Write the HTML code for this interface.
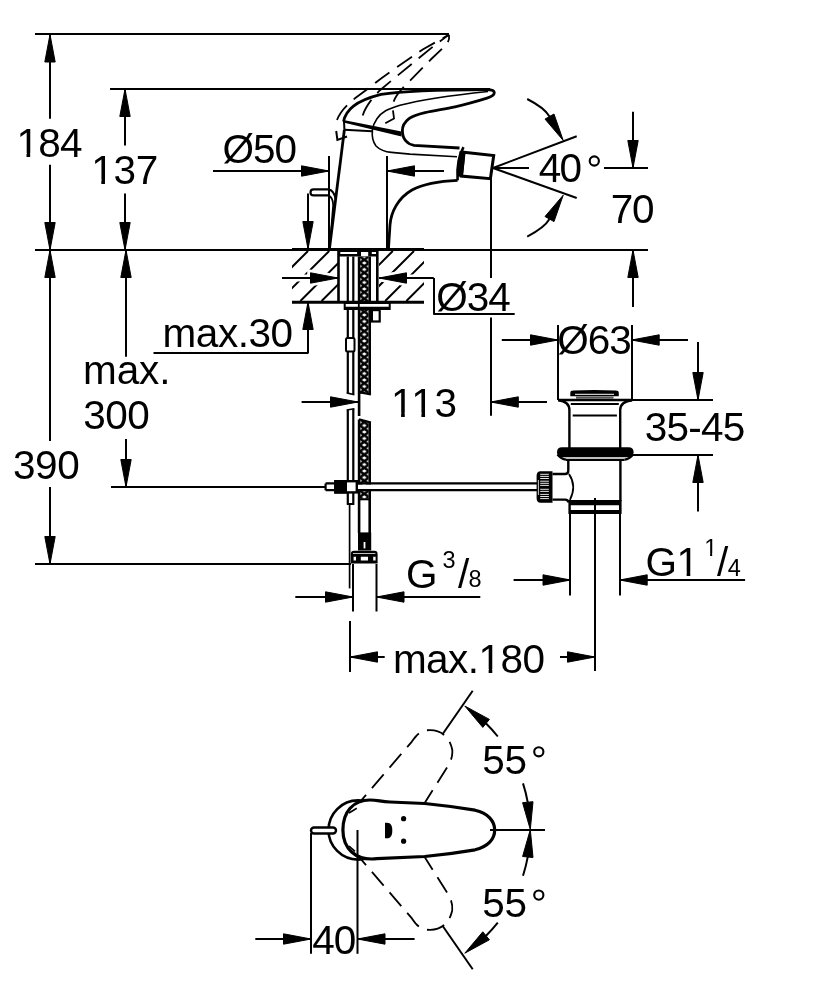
<!DOCTYPE html>
<html><head><meta charset="utf-8"><style>
html,body{margin:0;padding:0;background:#fff;width:834px;height:1000px;overflow:hidden}
svg{display:block}
text{font-family:"Liberation Sans",sans-serif;fill:#000}
svg{-webkit-font-smoothing:antialiased;will-change:transform}
</style></head><body>
<svg width="834" height="1000" viewBox="0 0 834 1000">
<g stroke="#000" fill="none" stroke-linecap="butt">
<line x1="35.0" y1="34.0" x2="449.0" y2="34.0" stroke-width="2.0" />
<line x1="110.0" y1="89.0" x2="490.0" y2="89.0" stroke-width="2.0" />
<line x1="35.0" y1="250.0" x2="648.0" y2="250.0" stroke-width="2.0" />
<line x1="50.0" y1="34.5" x2="50.0" y2="118.7" stroke-width="2.0" />
<line x1="50.0" y1="164.7" x2="50.0" y2="250.0" stroke-width="2.0" />
<polygon points="50.0,34.5 55.2,62.0 44.8,62.0" fill="#000" stroke="#000" stroke-width="1" stroke-linejoin="miter"/>
<polygon points="50.0,250.0 44.8,222.5 55.2,222.5" fill="#000" stroke="#000" stroke-width="1" stroke-linejoin="miter"/>
<line x1="125.0" y1="89.0" x2="125.0" y2="145.6" stroke-width="2.0" />
<line x1="125.0" y1="193.5" x2="125.0" y2="250.0" stroke-width="2.0" />
<polygon points="125.0,89.0 130.2,116.5 119.8,116.5" fill="#000" stroke="#000" stroke-width="1" stroke-linejoin="miter"/>
<polygon points="125.0,250.0 119.8,222.5 130.2,222.5" fill="#000" stroke="#000" stroke-width="1" stroke-linejoin="miter"/>
<line x1="50.0" y1="250.0" x2="50.0" y2="441.0" stroke-width="2.0" />
<line x1="50.0" y1="487.0" x2="50.0" y2="564.0" stroke-width="2.0" />
<polygon points="50.0,250.0 55.2,277.5 44.8,277.5" fill="#000" stroke="#000" stroke-width="1" stroke-linejoin="miter"/>
<polygon points="50.0,564.0 44.8,536.5 55.2,536.5" fill="#000" stroke="#000" stroke-width="1" stroke-linejoin="miter"/>
<line x1="126.0" y1="250.0" x2="126.0" y2="356.7" stroke-width="2.0" />
<line x1="126.0" y1="439.0" x2="126.0" y2="487.0" stroke-width="2.0" />
<polygon points="126.0,250.0 131.2,277.5 120.8,277.5" fill="#000" stroke="#000" stroke-width="1" stroke-linejoin="miter"/>
<polygon points="126.0,487.0 120.8,459.5 131.2,459.5" fill="#000" stroke="#000" stroke-width="1" stroke-linejoin="miter"/>
<line x1="35.0" y1="564.0" x2="351.0" y2="564.0" stroke-width="2.0" />
<line x1="111.0" y1="487.0" x2="326.0" y2="487.0" stroke-width="2.0" />
<line x1="153.5" y1="353.0" x2="308.5" y2="353.0" stroke-width="2.0" />
<line x1="308.0" y1="353.0" x2="308.0" y2="302.0" stroke-width="2.0" />
<polygon points="308.0,302.0 313.2,329.5 302.8,329.5" fill="#000" stroke="#000" stroke-width="1" stroke-linejoin="miter"/>
<line x1="213.0" y1="171.0" x2="329.0" y2="171.0" stroke-width="2.0" />
<polygon points="329.0,171.0 301.5,176.2 301.5,165.8" fill="#000" stroke="#000" stroke-width="1" stroke-linejoin="miter"/>
<line x1="387.0" y1="171.0" x2="444.0" y2="171.0" stroke-width="2.0" />
<polygon points="387.0,171.0 414.5,165.8 414.5,176.2" fill="#000" stroke="#000" stroke-width="1" stroke-linejoin="miter"/>
<line x1="329.0" y1="156.0" x2="329.0" y2="248.0" stroke-width="2.0" />
<line x1="387.0" y1="156.0" x2="387.0" y2="248.0" stroke-width="2.0" />
<line x1="308.0" y1="193.4" x2="308.0" y2="248.0" stroke-width="2.0" />
<polygon points="308.0,249.0 302.8,221.5 313.2,221.5" fill="#000" stroke="#000" stroke-width="1" stroke-linejoin="miter"/>
<line x1="493.0" y1="168.0" x2="576.7" y2="136.2" stroke-width="2.0" />
<line x1="493.0" y1="168.0" x2="576.7" y2="198.0" stroke-width="2.0" />
<line x1="493.0" y1="168.0" x2="529.0" y2="168.0" stroke-width="2.0" />
<path d="M527.2,99 Q544.5,107.8 549.5,116.5" fill="none" stroke-width="2"/>
<polygon points="563.2,140.4 545.0,119.1 554.0,114.0" fill="#000" stroke="#000" stroke-width="1" stroke-linejoin="miter"/>
<path d="M527.2,236.6 Q544.5,227.8 549.5,219.1" fill="none" stroke-width="2"/>
<polygon points="563.2,195.2 554.0,221.6 545.0,216.5" fill="#000" stroke="#000" stroke-width="1" stroke-linejoin="miter"/>
<line x1="491.0" y1="179.0" x2="491.0" y2="278.0" stroke-width="2.0" />
<line x1="491.0" y1="317.6" x2="491.0" y2="415.8" stroke-width="2.0" />
<line x1="604.0" y1="168.0" x2="648.0" y2="168.0" stroke-width="2.0" />
<line x1="633.0" y1="111.7" x2="633.0" y2="168.0" stroke-width="2.0" />
<polygon points="633.0,168.0 627.8,140.5 638.2,140.5" fill="#000" stroke="#000" stroke-width="1" stroke-linejoin="miter"/>
<line x1="633.0" y1="250.0" x2="633.0" y2="307.0" stroke-width="2.0" />
<polygon points="633.0,250.0 638.2,277.5 627.8,277.5" fill="#000" stroke="#000" stroke-width="1" stroke-linejoin="miter"/>
<line x1="282.0" y1="278.0" x2="338.0" y2="278.0" stroke-width="2.0" />
<polygon points="338.0,278.0 310.5,283.2 310.5,272.8" fill="#000" stroke="#000" stroke-width="1" stroke-linejoin="miter"/>
<line x1="379.0" y1="278.0" x2="433.5" y2="278.0" stroke-width="2.0" />
<polygon points="379.0,278.0 406.5,272.8 406.5,283.2" fill="#000" stroke="#000" stroke-width="1" stroke-linejoin="miter"/>
<line x1="434.0" y1="278.0" x2="434.0" y2="314.4" stroke-width="2.0" />
<line x1="433.5" y1="314.0" x2="514.7" y2="314.0" stroke-width="2.0" />
<line x1="301.6" y1="402.0" x2="358.0" y2="402.0" stroke-width="2.0" />
<polygon points="358.0,402.0 330.5,407.2 330.5,396.8" fill="#000" stroke="#000" stroke-width="1" stroke-linejoin="miter"/>
<line x1="490.8" y1="402.0" x2="547.0" y2="402.0" stroke-width="2.0" />
<polygon points="490.8,402.0 518.3,396.8 518.3,407.2" fill="#000" stroke="#000" stroke-width="1" stroke-linejoin="miter"/>
<line x1="558.0" y1="325.0" x2="558.0" y2="400.0" stroke-width="2.0" />
<line x1="632.0" y1="325.0" x2="632.0" y2="400.0" stroke-width="2.0" />
<line x1="501.8" y1="340.0" x2="558.0" y2="340.0" stroke-width="2.0" />
<polygon points="558.0,340.0 530.5,345.2 530.5,334.8" fill="#000" stroke="#000" stroke-width="1" stroke-linejoin="miter"/>
<line x1="631.7" y1="340.0" x2="688.0" y2="340.0" stroke-width="2.0" />
<polygon points="631.7,340.0 659.2,334.8 659.2,345.2" fill="#000" stroke="#000" stroke-width="1" stroke-linejoin="miter"/>
<line x1="632.0" y1="400.0" x2="713.0" y2="400.0" stroke-width="2.0" />
<line x1="632.7" y1="455.0" x2="713.0" y2="455.0" stroke-width="2.0" />
<line x1="698.0" y1="342.0" x2="698.0" y2="400.0" stroke-width="2.0" />
<polygon points="698.0,400.0 692.8,372.5 703.2,372.5" fill="#000" stroke="#000" stroke-width="1" stroke-linejoin="miter"/>
<line x1="698.0" y1="455.0" x2="698.0" y2="511.5" stroke-width="2.0" />
<polygon points="698.0,455.0 703.2,482.5 692.8,482.5" fill="#000" stroke="#000" stroke-width="1" stroke-linejoin="miter"/>
<path d="M353,564 V611.5 M376.5,564 V611.5" stroke-width="2"/>
<line x1="295.3" y1="597.0" x2="353.0" y2="597.0" stroke-width="2.0" />
<polygon points="353.0,597.0 325.5,602.2 325.5,591.8" fill="#000" stroke="#000" stroke-width="1" stroke-linejoin="miter"/>
<line x1="376.5" y1="597.0" x2="480.3" y2="597.0" stroke-width="2.0" />
<polygon points="376.5,597.0 404.0,591.8 404.0,602.2" fill="#000" stroke="#000" stroke-width="1" stroke-linejoin="miter"/>
<line x1="570.0" y1="513.0" x2="570.0" y2="595.4" stroke-width="2" />
<line x1="620.0" y1="513.0" x2="620.0" y2="595.4" stroke-width="2" />
<line x1="513.6" y1="580.0" x2="570.5" y2="580.0" stroke-width="2.0" />
<polygon points="570.5,580.0 543.0,585.2 543.0,574.8" fill="#000" stroke="#000" stroke-width="1" stroke-linejoin="miter"/>
<line x1="619.7" y1="580.0" x2="745.1" y2="580.0" stroke-width="2.0" />
<polygon points="619.7,580.0 647.2,574.8 647.2,585.2" fill="#000" stroke="#000" stroke-width="1" stroke-linejoin="miter"/>
<line x1="350.0" y1="621.0" x2="350.0" y2="672.0" stroke-width="2.0" />
<line x1="350.0" y1="657.0" x2="384.7" y2="657.0" stroke-width="2.0" />
<polygon points="350.0,657.0 377.5,651.8 377.5,662.2" fill="#000" stroke="#000" stroke-width="1" stroke-linejoin="miter"/>
<line x1="560.0" y1="657.0" x2="595.0" y2="657.0" stroke-width="2.0" />
<polygon points="595.0,657.0 567.5,662.2 567.5,651.8" fill="#000" stroke="#000" stroke-width="1" stroke-linejoin="miter"/>
<path d="M349.6,504 V588.4" stroke-width="1.7"/>
<line x1="472.7" y1="690.8" x2="442.7" y2="734.0" stroke-width="2.0" />
<line x1="442.7" y1="926.0" x2="472.7" y2="969.2" stroke-width="2.0" />
<polygon points="464.8,706.0 489.4,719.4 482.8,727.4" fill="#000" stroke="#000" stroke-width="1" stroke-linejoin="miter"/>
<path d="M485.6,723.0 A149.5,149.5 0 0 1 497.8,736.5" fill="none" stroke-width="2"/>
<path d="M523.0,783.4 A149.5,149.5 0 0 1 527.8,802.6" fill="none" stroke-width="2"/>
<polygon points="530.3,829.6 522.6,802.7 533.0,801.7" fill="#000" stroke="#000" stroke-width="1" stroke-linejoin="miter"/>
<polygon points="464.8,953.2 482.8,931.8 489.4,939.8" fill="#000" stroke="#000" stroke-width="1" stroke-linejoin="miter"/>
<path d="M485.6,936.2 A149.5,149.5 0 0 0 497.8,922.7" fill="none" stroke-width="2"/>
<path d="M523.0,875.8 A149.5,149.5 0 0 0 527.8,856.6" fill="none" stroke-width="2"/>
<polygon points="530.3,829.6 533.0,857.5 522.6,856.5" fill="#000" stroke="#000" stroke-width="1" stroke-linejoin="miter"/>
<line x1="311.0" y1="833.0" x2="311.0" y2="953.8" stroke-width="2.0" />
<line x1="255.3" y1="939.0" x2="311.0" y2="939.0" stroke-width="2.0" />
<polygon points="311.0,939.0 283.5,944.2 283.5,933.8" fill="#000" stroke="#000" stroke-width="1" stroke-linejoin="miter"/>
<line x1="357.5" y1="939.0" x2="414.6" y2="939.0" stroke-width="2.0" />
<polygon points="357.5,939.0 385.0,933.8 385.0,944.2" fill="#000" stroke="#000" stroke-width="1" stroke-linejoin="miter"/>
<text x="16.4" y="156.8" font-size="40.5" text-anchor="start" stroke="none" textLength="66.2" lengthAdjust="spacing">184</text>
<text x="91.2" y="183.6" font-size="40.5" text-anchor="start" stroke="none" textLength="66.96" lengthAdjust="spacing">137</text>
<text x="222.4" y="163.2" font-size="40.5" text-anchor="start" stroke="none" textLength="74.51" lengthAdjust="spacing">Ø50</text>
<text x="538.8" y="182.1" font-size="40.5" text-anchor="start" stroke="none" textLength="43.35" lengthAdjust="spacing">40</text>
<text x="610.8" y="223.3" font-size="40.5" text-anchor="start" stroke="none" textLength="43.73" lengthAdjust="spacing">70</text>
<text x="436.2" y="311.0" font-size="40.5" text-anchor="start" stroke="none" textLength="74.61" lengthAdjust="spacing">Ø34</text>
<text x="162.6" y="346.9" font-size="40.5" text-anchor="start" stroke="none" textLength="130.43" lengthAdjust="spacing">max.30</text>
<text x="83.1" y="384.4" font-size="40.5" text-anchor="start" stroke="none" textLength="87.34" lengthAdjust="spacing">max.</text>
<text x="83.3" y="428.7" font-size="40.5" text-anchor="start" stroke="none" textLength="66.53" lengthAdjust="spacing">300</text>
<text x="13.0" y="479.0" font-size="40.5" text-anchor="start" stroke="none" textLength="66.77" lengthAdjust="spacing">390</text>
<text x="391.0" y="416.5" font-size="40.5" text-anchor="start" stroke="none" textLength="66.15" lengthAdjust="spacing">113</text>
<text x="557.3" y="354.2" font-size="40.5" text-anchor="start" stroke="none" textLength="74.51" lengthAdjust="spacing">Ø63</text>
<text x="644.7" y="440.6" font-size="40.5" text-anchor="start" stroke="none" textLength="100.54" lengthAdjust="spacing">35-45</text>
<text x="392.9" y="672.9" font-size="40.5" text-anchor="start" stroke="none" textLength="152.1" lengthAdjust="spacing">max.180</text>
<text x="482.3" y="773.6" font-size="40.5" text-anchor="start" stroke="none" textLength="44.68" lengthAdjust="spacing">55</text>
<text x="482.3" y="916.9" font-size="40.5" text-anchor="start" stroke="none" textLength="44.68" lengthAdjust="spacing">55</text>
<text x="312.3" y="954.0" font-size="40.5" text-anchor="start" stroke="none" textLength="43.92" lengthAdjust="spacing">40</text>
<text x="406.1" y="588.4" font-size="40.5" text-anchor="start" stroke="none" >G</text>
<text x="442.6" y="567.8" font-size="23.5" text-anchor="start" stroke="none" >3</text>
<text x="458.0" y="588.2" font-size="40.5" text-anchor="start" stroke="none" >/</text>
<text x="468.5" y="587.2" font-size="23.5" text-anchor="start" stroke="none" >8</text>
<text x="645.4" y="576.0" font-size="40.5" text-anchor="start" stroke="none" textLength="53.65" lengthAdjust="spacing">G1</text>
<text x="704.2" y="555.7" font-size="23.5" text-anchor="start" stroke="none" >1</text>
<text x="717.1" y="576.0" font-size="40.5" text-anchor="start" stroke="none" >/</text>
<text x="727.8" y="576.0" font-size="23.5" text-anchor="start" stroke="none" >4</text>
<path d="M18.70,153.00 H26.52 V157.60 H18.70 Z M30.17,153.00 H37.72 V157.60 H30.17 Z" fill="#fff" stroke="none"/>
<path d="M93.50,179.80 H101.32 V184.40 H93.50 Z M104.97,179.80 H112.52 V184.40 H104.97 Z" fill="#fff" stroke="none"/>
<path d="M393.31,412.69 H401.12 V417.30 H393.31 Z M404.77,412.69 H412.32 V417.30 H404.77 Z" fill="#fff" stroke="none"/>
<path d="M413.61,412.69 H421.43 V417.30 H413.61 Z M425.08,412.69 H432.63 V417.30 H425.08 Z" fill="#fff" stroke="none"/>
<path d="M480.81,669.10 H488.63 V673.70 H480.81 Z M492.27,669.10 H499.82 V673.70 H492.27 Z" fill="#fff" stroke="none"/>
<path d="M678.82,572.19 H686.64 V576.80 H678.82 Z M690.29,572.19 H697.84 V576.80 H690.29 Z" fill="#fff" stroke="none"/>
<path d="M705.20,553.20 H710.08 V556.50 H705.20 Z M712.19,553.20 H716.91 V556.50 H712.19 Z" fill="#fff" stroke="none"/>
<circle cx="594.3" cy="161" r="4.6" fill="none" stroke-width="2.1"/>
<circle cx="538.8" cy="751.8" r="4.6" fill="none" stroke-width="2.1"/>
<circle cx="538.8" cy="895.1" r="4.6" fill="none" stroke-width="2.1"/>
<defs>
<pattern id="mesh" patternUnits="userSpaceOnUse" width="9" height="6.5" x="359.8" y="250">
<path d="M0,0 L9,6.5 M9,0 L0,6.5" stroke="#000" stroke-width="2.5"/>
</pattern>
<clipPath id="hatchL"><rect x="292" y="251" width="46" height="50"/></clipPath>
<clipPath id="hatchR"><rect x="379" y="251" width="45" height="50"/></clipPath>
</defs>
<path d="M236.8,301 L286.8,251 M258.0,301 L308.0,251 M279.2,301 L329.2,251 M300.4,301 L350.4,251 M321.6,301 L371.6,251 M342.8,301 L392.8,251 M364.0,301 L414.0,251 M385.2,301 L435.2,251 M406.4,301 L456.4,251 M427.6,301 L477.6,251 M448.8,301 L498.8,251 " stroke-width="2.0" clip-path="url(#hatchL)"/>
<path d="M236.8,301 L286.8,251 M258.0,301 L308.0,251 M279.2,301 L329.2,251 M300.4,301 L350.4,251 M321.6,301 L371.6,251 M342.8,301 L392.8,251 M364.0,301 L414.0,251 M385.2,301 L435.2,251 M406.4,301 L456.4,251 M427.6,301 L477.6,251 M448.8,301 L498.8,251 " stroke-width="2.0" clip-path="url(#hatchR)"/>
<g stroke="#fff" fill="#fff">
<polygon points="338,278 310.5,272.8 310.5,283.2" stroke-width="6.5"/>
<polygon points="379,278 406.5,272.8 406.5,283.2" stroke-width="6.5"/>
<line x1="292" y1="278" x2="338" y2="278" stroke-width="7"/>
<line x1="379" y1="278" x2="424" y2="278" stroke-width="7"/>
</g>
<polygon points="338,278 310.5,272.8 310.5,283.2" fill="#000" stroke="#000" stroke-width="1"/>
<polygon points="379,278 406.5,272.8 406.5,283.2" fill="#000" stroke="#000" stroke-width="1"/>
<line x1="282" y1="278" x2="338" y2="278" stroke-width="2"/>
<line x1="379" y1="278" x2="433.5" y2="278" stroke-width="2"/>
<path d="M292,249.6 H424" stroke-width="3" />
<path d="M292,302.2 H424" stroke-width="3" />
<path d="M338.5,249.6 V302.2 M377.3,249.6 V302.2" stroke-width="2.6" />
<path d="M338.5,249.6 H377.3 V256.6 H338.5 Z" fill="#000" stroke="none"/>
<path d="M340.3,252.1 H357.1 V253.9 H340.3 Z M361,252.1 H368.2 V256 H361 Z M371.8,252.1 H376 V253.9 H371.8 Z" fill="#fff" stroke="none"/>
<rect x="359.8" y="256.6" width="8.8" height="137" rx="stroke="none"" stroke-width="0" fill="url(#mesh)" />
<path d="M359.1,256.6 V416 M369.7,256.6 V393.5" stroke-width="2.6" />
<path d="M347.8,256.6 V393 M353.3,256.6 V394.5" stroke-width="2.2" />
<path d="M346.7,392.9 L354.4,394.7" stroke-width="1.6" />
<path d="M359,392.2 L371,394.4" stroke-width="2.2" />
<path d="M343.7,302 H390.7 V310.1 H343.7 Z" fill="#000" stroke="none"/>
<path d="M345.7,304 H357.9 V306.7 H345.7 Z M359.7,304 H388.7 V306.7 H359.7 Z" fill="#fff" stroke="none"/>
<rect x="371.9" y="310.1" width="7.8" height="11.4" rx="0" stroke-width="2.2" fill="#fff" />
<rect x="346" y="338" width="8.5" height="13.4" rx="1.5" stroke-width="2" fill="#fff" />
<path d="M347.8,410 V504.8 M353.3,408.8 V504.8 M346.8,504 H354.3" stroke-width="2.2" />
<path d="M346.7,410 L354.4,408.8" stroke-width="1.6" />
<rect x="359.8" y="421" width="8.8" height="77.8" rx="stroke="none"" stroke-width="0" fill="url(#mesh)" />
<path d="M359.1,419.4 V533 M369.7,422.6 V533" stroke-width="2.6" />
<path d="M359,419.4 L371,422.6" stroke-width="2.2" />
<path d="M359.1,499.4 H369.7" stroke-width="1.8" />
<path d="M358,532.4 H371.2 V550.5 H358 Z" fill="#000" stroke="none"/>
<path d="M363.6,542 H365.4 V548.4 H363.6 Z" fill="#fff" stroke="none"/>
<path d="M350.8,563.6 V554 Q350.8,550.8 354,550.8 H374.4 Q377.6,550.8 377.6,554 V563.6 Z" fill="#000" stroke="none"/>
<path d="M353,553 H375.4 V553.7 H353 Z M353.6,556.8 H356 V560.4 H353.6 Z M360.8,556.8 H368 V560.4 H360.8 Z M373.2,556.8 H375.6 V560.4 H373.2 Z" fill="#fff" stroke="none"/>
<path d="M356,484.4 H537 V489.2 H356 Z" fill="#fff" stroke="none"/>
<path d="M325.6,483.4 H537 M325.6,490.2 H537 M325.6,483.4 V490.2" stroke-width="2.2" />
<rect x="335.4" y="481.2" width="21.4" height="11.2" rx="0" stroke-width="2.4" fill="#fff" />
<path d="M334.2,480 H347 V493.6 H334.2 Z" fill="#000" stroke="none"/>
<path d="M558,400 H632" stroke-width="2.6" />
<path d="M570.3,396.3 V393 Q570.3,390.6 573.5,390.6 Q594,389.6 615.5,390.6 Q618.8,390.6 618.8,393 V396.3 Z" fill="#000" stroke="none"/>
<path d="M575,394.3 H614" stroke-width="1" stroke="#fff"/>
<path d="M576,397.7 H613.5" stroke-width="2.2" stroke="#555"/>
<path d="M558.4,400.2 C565,401 569.4,404 569.4,410 V448 M632.2,400.2 C625.6,401 620.2,404 620.2,410 V448" stroke-width="2.4" />
<path d="M570.8,404 H618.8 M572.7,415.5 H616.9" stroke-width="1.8" />
<path d="M562,447.2 H628.5 Q633.6,447.2 633.6,452.2 Q633.6,457.2 628.5,457.2 H562 Q557,457.2 557,452.2 Q557,447.2 562,447.2 Z" fill="#000" stroke="none"/>
<path d="M557.5,454.5 Q561,459 566,459.6 M633,454.5 Q629.6,459 624.6,459.6" stroke-width="2.2" />
<path d="M566,459.8 H624.6" stroke-width="2.2" />
<path d="M568.3,459.8 V470.5 Q568.3,474 565,474 H552.5 M552.5,499.6 H565 Q568.3,499.6 568.3,502.4 M620.4,459.8 V501" stroke-width="2.4" />
<path d="M569,474 Q577,486 569.9,499.8" stroke-width="1.8" />
<path d="M540.5,471.3 H552.5 V502.8 H540.5 Q536.6,502.8 536.6,498 V476 Q536.6,471.3 540.5,471.3 Z" fill="#000" stroke="none"/>
<path d="M540.2,474.3 H548.9 M540.2,476.4 H548.9 M540.2,478.5 H548.9 M540.2,481.2 H548.9 M540.2,483.3 H548.9 M540.2,485.4 H548.9 M540.2,489.3 H548.9 M540.2,491.4 H548.9 M540.2,494.4 H548.9 M540.2,496.5 H548.9 M540.2,498.6 H548.9 " stroke-width="0.9" stroke="#fff"/>
<path d="M538.4,480 V495" stroke-width="0.8" stroke="#fff"/>
<path d="M568.4,500 H621.6 V514 H568.4 Z" fill="#000" stroke="none"/>
<path d="M570.8,505.3 H619 V509.9 H570.8 Z" fill="#fff" stroke="none"/>
<path d="M595,498 V671" stroke-width="2" />
<path d="M337,120 C340,112 345.6,106 355,98.3 L369,87.9 C375,83 380,79 393.4,69.6 L422.7,49.5 L449,34.6" stroke-width="1.8" stroke-dasharray="18,9"/>
<path d="M362.7,115.4 C365,108 370.5,99.8 380,90.2 L392.5,79.7 L413.6,62.4 L434.2,45.6 L449,34.6" stroke-width="1.8" stroke-dasharray="18,9"/>
<path d="M385.3,123.2 L394,118.5 L392.4,106 C394,98 398,93 402.5,88.3 L431.3,59 L446.2,44.7 C449,41 449.5,38 449,35" stroke-width="1.8" stroke-dasharray="18,9"/>
<path d="M336.2,131 L337.4,140 L347,136.5" stroke-width="2" />
<path d="M343.5,121.5 C346,110 355,101 381,94.4 C400,91.5 440,89.8 487,89.6 C492,89.6 494.3,90.8 494.3,92.6 C494.3,95 491,97 487,98.2 C478,101 468,104 455,106.8 C445,109 434,110.5 425,112.6 C418,114.3 412,116.5 409,118.6 C404,122.5 402.4,126 402.4,130.5 C402.4,135 403.4,138 405.5,140.5 C407.5,143 410,144.6 414,145.3 L459.5,148" stroke-width="2.8" />
<path d="M488,91.5 C460,94.4 420,100 400,105.3 C393,107.5 389,109 385.6,110.8 C379,114.5 373.5,122 372.4,130 C371.8,136 373,142 376,146 C380,150 386,152 391.4,152.4 L410,154.1 L457,156.7" stroke-width="1.6" />
<path d="M343.4,119.9 L401.5,131.6 L401.5,136.4 L343.4,122.5 Z" fill="#000" stroke="none"/>
<path d="M344.4,129.7 L372,131.3" stroke-width="2" />
<path d="M344,121 L344.4,129.7" stroke-width="2" />
<path d="M344.4,129.7 L329.5,248" stroke-width="2.8" />
<path d="M457.6,180.3 C440,181 425,183 412,190 C398,198 391,212 390,225 L388.5,248" stroke-width="2.8" />
<path d="M463.9,152.2 L493.7,155.6 L490.4,178.7 L461.4,176.1 Z" stroke-width="3" fill="#fff"/>
<path d="M463.5,147.2 C458.5,156 456.8,168 457.6,180.3" stroke-width="2.6" />
<path d="M459.5,151.2 L465.6,151.8 L462.9,177 L457.6,176.4 Z" fill="#000" stroke="none"/>
<path d="M328.5,189.4 H313.5 Q310.5,189.4 310.5,192.4 Q310.5,195.4 313.5,195.4 H328.5" stroke-width="2.2" />
<path d="M328.5,189.4 C332,190 334.5,193.5 335.8,199" stroke-width="2.2" />
<path d="M328.5,195.4 C331,196.5 333,200 333.2,205 L330.4,240" stroke-width="1.8" />
<path d="M354.3,808.5 L411.9,741.6 C417,734 421,730.1 430,730.1 C440,730 449.3,736 452.2,749.5 C453,755 451,760 449.3,763.9 L424.8,802.8" stroke-width="1.8" stroke-dasharray="18,9"/>
<path d="M354.3,851.5 L411.9,918.4 C417,926 421,929.9 430,929.9 C440,930 449.3,924 452.2,910.5 C453,905 451,900 449.3,896.1 L424.8,857.2" stroke-width="1.8" stroke-dasharray="18,9"/>
<circle cx="358.1" cy="830" r="29.6" stroke-width="2.6" fill="#fff"/>
<path d="M370,800 C378,800 380,801.5 390,802 L424.7,803.5 C450,806 465,808.5 475,810.2 C488,813 494.7,821 494.7,830 C494.7,839 488,847 475,849.8 C465,851.5 450,854 424.7,856.5 L376.7,858.7 C355,861 342.9,848 342.9,830 C342.9,812 353,800 370,800 Z" stroke-width="3.2" fill="#fff"/>
<path d="M349,813 L356.8,808.2" stroke-width="1.6" />
<path d="M349,846 L355,851.4" stroke-width="1.6" />
<rect x="311" y="827.5" width="25" height="6" rx="3" stroke-width="2.4" fill="#fff" />
<path d="M357.5,830 V953.8" stroke-width="2" />
<path d="M490,830 H545" stroke-width="2" />
<path d="M385,822.7 H387 C391,822.7 392.3,826 392.3,830.5 C392.3,835 391,838.3 387,838.3 H385 Z" fill="#000" stroke="none"/>
<circle cx="403.6" cy="818.7" r="2.6" fill="#000" stroke="none"/>
<circle cx="403.6" cy="841.2" r="2.6" fill="#000" stroke="none"/>
</g>
</svg>
</body></html>
